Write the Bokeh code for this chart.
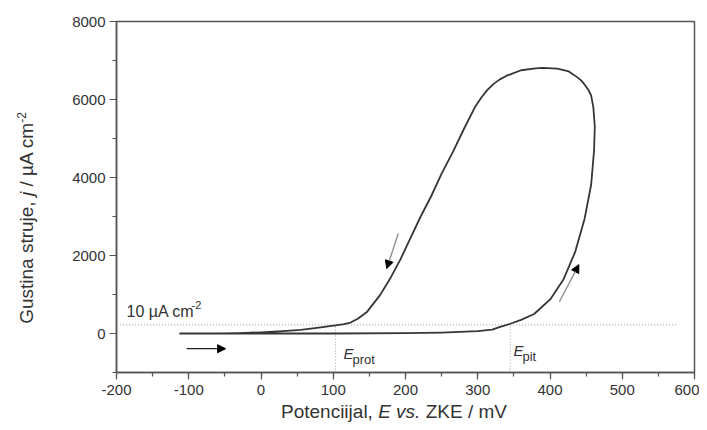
from bokeh.plotting import figure
from bokeh.models import (Range1d, SingleIntervalTicker, Label, Arrow, NormalHead,
                          PrintfTickFormatter, Div)
from bokeh.layouts import row, column
from bokeh.embed import file_html
from bokeh.resources import INLINE

# ---- data ----
E_forward = [-113, -50, 0, 100, 200, 250, 300, 320, 331, 345, 360, 378, 401, 419, 435,
             448, 457, 461, 462, 460, 457, 453, 448, 443, 437, 426, 410, 390]
j_forward = [0, 0, 0, 0, 10, 25, 60, 100, 170, 250, 350, 500, 890, 1400, 2100,
             2950, 3820, 4700, 5300, 5800, 6100, 6250, 6380, 6490, 6580, 6720, 6790, 6810]
E_reverse = [390, 380, 360, 340, 330, 322, 313, 305, 296, 281, 266, 250, 235, 221, 207, 193, 180, 165,
             147, 134, 124, 115, 103, 80, 55, 30, 0, -30, -56]
j_reverse = [6810, 6800, 6750, 6610, 6510, 6400, 6240, 6050, 5800, 5250, 4670, 4100, 3500, 3000, 2450,
             1900, 1450, 990, 560, 380, 280, 240, 210, 150, 95, 60, 30, 10, 0]

E_prot = 103
E_pit = 345
j_threshold = 220
x_ticks = [-200, -100, 0, 100, 200, 300, 400, 500, 600]
y_ticks = [0, 2000, 4000, 6000, 8000]

FONT = "Liberation Sans"
TXT = "#333333"
LINE = "#363636"
AX = "#555555"

# page geometry (figure starts after the y-title strip)
YSTRIP = 40
FL, FR, FT, FB = 116, 694, 21, 372

p = figure(width=FR + 5 - YSTRIP, height=FB + 30, output_backend="svg", toolbar_location=None,
           x_range=Range1d(-200, 600), y_range=Range1d(-1000, 8000),
           min_border_left=FL - YSTRIP, min_border_right=5, min_border_top=FT, min_border_bottom=30)
p.background_fill_color = "white"
p.border_fill_color = "white"
p.outline_line_color = AX
p.outline_line_width = 1.5
p.xgrid.visible = False
p.ygrid.visible = False

for ax in (p.xaxis[0], p.yaxis[0]):
    ax.axis_line_color = AX
    ax.axis_line_width = 1.5
    ax.major_tick_line_color = AX
    ax.minor_tick_line_color = AX
    ax.major_tick_line_width = 1.2
    ax.minor_tick_line_width = 1.2
    ax.major_tick_in = 0
    ax.minor_tick_in = 0
    ax.major_tick_out = 7
    ax.minor_tick_out = 4
    ax.major_label_text_font = FONT
    ax.major_label_text_font_size = "15px"
    ax.major_label_text_color = TXT
    ax.formatter = PrintfTickFormatter(format="%d")
    ax.axis_label = None

p.xaxis[0].ticker = SingleIntervalTicker(interval=100, num_minor_ticks=2)
p.yaxis[0].ticker = SingleIntervalTicker(interval=2000, num_minor_ticks=2)
p.xaxis[0].major_label_standoff = 5
p.yaxis[0].major_label_standoff = 4

# threshold and marker lines
p.line([-195, 576], [j_threshold, j_threshold], line_color="#9a9a9a", line_dash="1 2", line_width=1)
p.line([E_prot, E_prot], [-1000, j_threshold], line_color="#9a9a9a", line_dash="1 2", line_width=1)
p.line([E_pit, E_pit], [-1000, j_threshold + 30], line_color="#9a9a9a", line_dash="1 2", line_width=1)

# polarization loop
p.line(E_forward + E_reverse[1:], j_forward + j_reverse[1:], line_color=LINE, line_width=1.8,
       line_join="round")

# arrows
def arrow(x0, y0, x1, y1, tail):
    p.add_layout(Arrow(end=NormalHead(size=8, fill_color="black", line_color="black"),
                       x_start=x0, y_start=y0, x_end=x1, y_end=y1,
                       line_color=tail, line_width=1.3))

arrow(-103, -390, -49, -390, "#222222")
arrow(190, 2563, 174, 1663, "#8a8a8a")
arrow(413, 815, 440, 1766, "#8a8a8a")

# ---- in-frame text placed in page pixel coordinates ----
def dx(px):
    return -200 + (px - FL) / (FR - FL) * 800
def dy(py):
    return -1000 + (FB - py) / (FB - FT) * 9000

def lab(text, px, py, size, style="normal", align="left", baseline="middle"):
    p.add_layout(Label(x=dx(px), y=dy(py), text=text, text_font=FONT,
                       text_font_size=f"{size}px", text_font_style=style, text_color=TXT,
                       text_align=align, text_baseline=baseline))

lab("10 \u00b5A cm", 126, 311, 16)
lab("-2", 191, 304, 11)
lab("E", 343, 353, 15, "italic")
lab("prot", 352, 359, 13)
lab("E", 513, 350, 15, "italic")
lab("pit", 522, 356, 13)

# ---- axis titles as HTML (italic / superscript parts) ----
font_css = f"font-family:'{FONT}'; color:{TXT}; font-size:19px; white-space:nowrap;"
xdiv = Div(text=(f'<div style="{font_css} line-height:20px; padding-left:{281 - YSTRIP}px;">'
                 'Potenciijal, <i>E vs.</i> ZKE / mV</div>'),
           width=FR + 5 - YSTRIP, height=20, margin=0)
ydiv = Div(text=(f'<div style="position:relative; width:{YSTRIP}px; height:{FB + 50}px;">'
                 f'<span style="{font_css} position:absolute; left:27px; top:218px; '
                 'transform:translate(-50%,-50%) rotate(-90deg);">'
                 'Gustina struje, <i>j</i> / \u00b5A cm<sup style="font-size:12px">-2</sup></span></div>'),
           width=YSTRIP, height=FB + 50, margin=0)

layout = row(ydiv, column(p, xdiv, spacing=0), spacing=0)

open("out.html", "w").write(file_html(layout, INLINE))
